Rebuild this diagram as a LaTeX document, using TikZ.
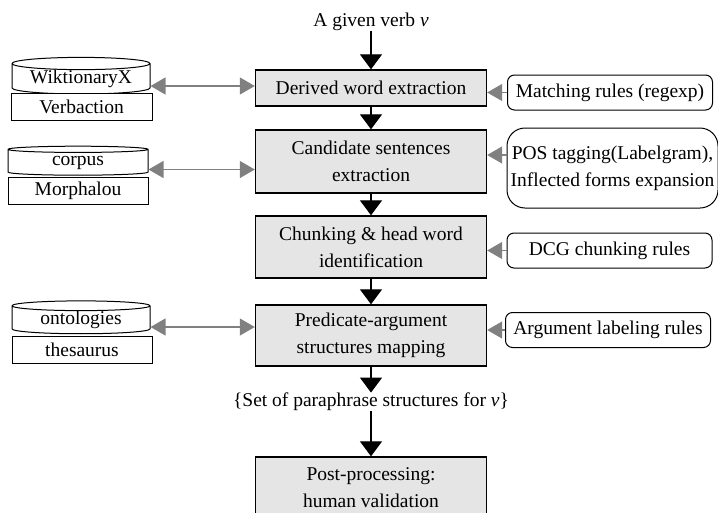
\documentclass[tikz,border=0pt]{standalone}
\usepackage{fontspec}
\setmainfont{Liberation Serif}
\usetikzlibrary{arrows.meta,shapes.geometric,calc}

\begin{document}
\begin{tikzpicture}
[x=1pt,y=-1pt,line width=1pt,%
  every node/.style={align=center,inner sep=0pt},%
  stage/.style={draw,fill=black!10,minimum width=231pt,line width=1.4pt},%
  rule/.style={draw,fill=white,rounded corners=7pt,minimum width=205pt,minimum height=35pt},%
  store/.style={draw,fill=white,minimum width=140pt,minimum height=27pt},%
  base/.style={cylinder,shape border rotate=90,aspect=0.12,draw,fill=white,%
    minimum width=138pt,minimum height=29pt},%
  flow/.style={-{Triangle[length=15pt,width=22pt]},line width=1.3pt},%
  link/.style={{Triangle[length=15pt,width=17pt]}-{Triangle[length=15pt,width=17pt]},gray,line width=1.2pt},%
  feed/.style={-{Triangle[length=15pt,width=17pt]},gray,line width=1.2pt}]
\fontsize{19.5}{27}\selectfont
\useasboundingbox (0,0) rectangle (718,512);

% main column
\node (verb) at (371,22) {A given verb \textit{v}};
\node[stage,minimum height=36pt] (derive) at (371,88) {Derived word extraction};
\node[stage,minimum height=63pt] (cand) at (371,161.5) {Candidate sentences\\extraction};
\node[stage,minimum height=62pt] (chunk) at (371,247) {Chunking \& head word\\identification};
\node[stage,minimum height=61pt] (pred) at (371,335.5) {Predicate-argument\\structures mapping};
\node (set) at (371,402) {\{Set of paraphrase structures for \textit{v}\}};
\node[stage,minimum height=61pt] (post) at (371,487.5) {Post-processing:\\human validation};

% resources
\node[base] (wik) at (81,79) {WiktionaryX};
\node[store,minimum width=141pt] (verbac) at (81.5,106.5) {Verbaction};
\node[base,minimum width=140pt] (corpus) at (78,162.5) {corpus};
\node[store] (morph) at (78,191) {Morphalou};
\node[base] (onto) at (81,320) {ontologies};
\node[store] (thes) at (82,349.5) {thesaurus};

% rules
\node[rule] (match) at (610,92.5) {Matching rules (regexp)};
\node[rule,rounded corners=18pt,minimum width=211pt,minimum height=80pt] (pos) at (612.5,168)
  {POS tagging(Labelgram),\\Inflected forms expansion};
\node[rule] (dcg) at (609.5,250.5) {DCG chunking rules};
\node[rule] (arg) at (608,330) {Argument labeling rules};

\draw[flow] (verb) -- (derive);
\draw[flow] (derive) -- (cand);
\draw[flow] (cand) -- (chunk);
\draw[flow] (chunk) -- (pred);
\draw[flow] (pred) -- (set);
\draw[flow] (set) -- (post);

\foreach \src/\dst in {wik/derive,corpus/cand,onto/pred}
  \draw[link] ($(\src.east)+(0,7)$) coordinate (out) -- (out -| \dst.west);
\foreach \src/\dst in {match/derive,dcg/chunk,arg/pred}
  \draw[feed] (\src.west) -- (\src.west -| \dst.east);
\coordinate (posin) at ($(pos.west)+(0,-13)$);
\draw[feed] (posin) -- (posin -| cand.east);
\end{tikzpicture}
\end{document}
